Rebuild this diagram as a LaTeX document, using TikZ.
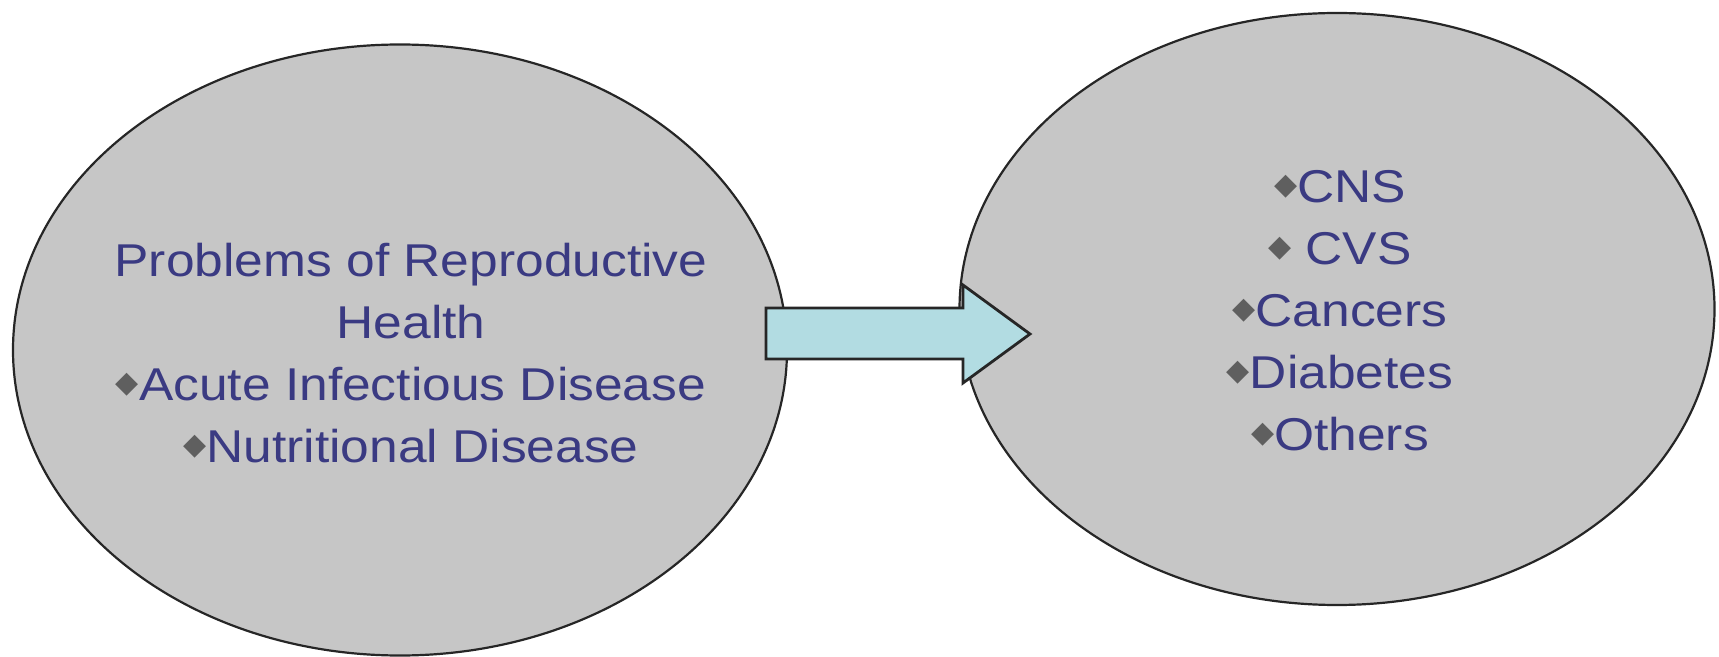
\documentclass[tikz,border=0pt]{standalone}
\usepackage{fontspec}
\setmainfont{Liberation Sans}[FakeStretch=1.12]
\newfontfamily\symfont{DejaVu Sans}
\usetikzlibrary{shapes.geometric}

\definecolor{ovalgray}{RGB}{198,198,198}
\definecolor{textblue}{RGB}{58,58,130}
\definecolor{arrowcyan}{RGB}{178,220,226}
\definecolor{bulletgray}{RGB}{95,95,95}

\newcommand{\dia}{{\color{bulletgray}\symfont\fontsize{15}{15}\selectfont\raisebox{4.2pt}{◆}}}

\tikzset{
    oval/.style={ellipse, draw=black!85, line width=1.1pt, fill=ovalgray, inner sep=0pt},
    listtext/.style={text=textblue, align=center, inner sep=0pt, font=\fontsize{23}{31}\selectfont},
    blockarrow/.style={draw=black!85, line width=1.4pt, fill=arrowcyan, line join=miter}
}

\begin{document}
\begin{tikzpicture}[x=0.5pt, y=-0.5pt]
    \useasboundingbox (0, 0) rectangle (1719, 657);
    \node [oval, minimum width=387pt, minimum height=305.5pt] (oldoval) at (400, 350) {};
    \node [oval, minimum width=377.5pt, minimum height=296pt] (newoval) at (1337, 309) {};
    \node [listtext] (oldlist) at (411, 353)
        {Problems of Reproductive\\Health\\\dia Acute Infectious Disease\\\dia Nutritional Disease};
    \node [listtext] (newlist) at (1340, 311)
        {\dia CNS\\\dia\ CVS\\\dia Cancers\\\dia Diabetes\\\dia Others};
    \draw [blockarrow] (766, 308) -- (963, 308) -- (963, 285) -- (1030, 334)
        -- (963, 383) -- (963, 359) -- (766, 359) -- cycle;
\end{tikzpicture}
\end{document}
